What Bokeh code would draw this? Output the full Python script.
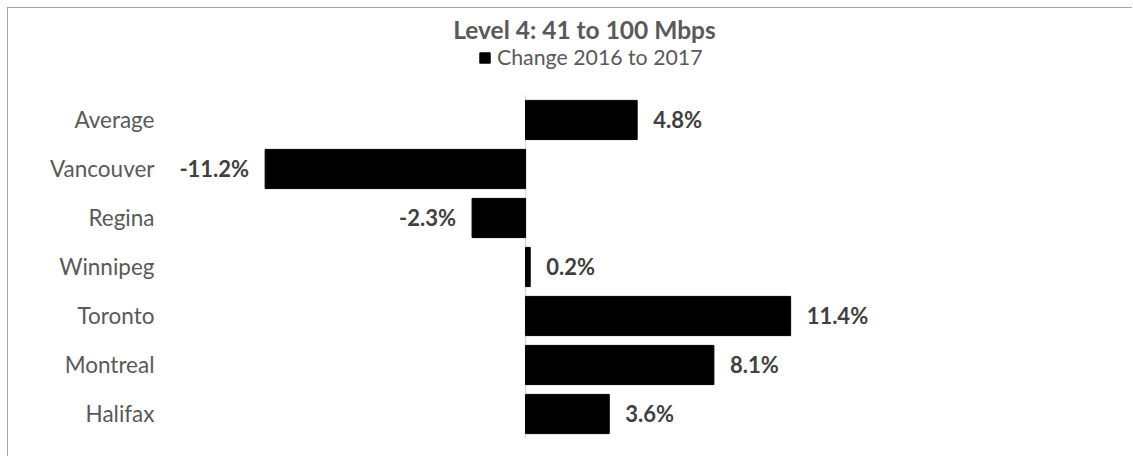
from bokeh.plotting import figure
from bokeh.models import (ColumnDataSource, Range1d, Legend, LegendItem, LabelSet,
                          FixedTicker)
from bokeh.core.properties import value
from bokeh.embed import file_html
from bokeh.resources import INLINE

# ---- data ----
cities = ["Average", "Vancouver", "Regina", "Winnipeg", "Toronto", "Montreal", "Halifax"]
changes = [4.8, -11.2, -2.3, 0.2, 11.4, 8.1, 3.6]
series_name = "Change 2016 to 2017"
title_text = "Level 4: 41 to 100 Mbps"

labels = [f"{v:.1f}%" for v in changes]
n = len(cities)
ypos = [n - 1 - i for i in range(n)]   # first category at the top

FONT = "Lato"
W, H = 1125, 449

p = figure(width=W, height=H,
           y_range=Range1d(-0.5, n - 0.5 + 1.061),
           x_range=Range1d(-15.70, 20.77),
           output_backend="svg", toolbar_location=None,
           min_border_left=152, min_border_right=125,
           min_border_top=35, min_border_bottom=19,
           outline_line_color=None)
p.styles = {"border-left": "1px solid #a6a6a6", "border-top": "1px solid #a6a6a6",
            "margin-left": "7px", "margin-top": "7px"}

src = ColumnDataSource(dict(y=ypos, city=cities, change=changes, label=labels))
r = p.hbar(y="y", left=0, right="change", height=0.8, source=src,
           fill_color="black", line_color="black")

# zero line spanning the category band
p.segment(x0=[0], y0=[-0.5], x1=[0], y1=[n - 0.5], line_color="#d9d9d9", line_width=1.5,
          level="underlay")

pos = [i for i, v in enumerate(changes) if v >= 0]
neg = [i for i, v in enumerate(changes) if v < 0]
src_pos = ColumnDataSource(dict(y=[ypos[i] for i in pos], change=[changes[i] for i in pos],
                                label=[labels[i] for i in pos]))
src_neg = ColumnDataSource(dict(y=[ypos[i] for i in neg], change=[changes[i] for i in neg],
                                label=[labels[i] for i in neg]))
for s, align, off in [(src_pos, "left", 16), (src_neg, "right", -16)]:
    ls = LabelSet(x="change", y="y", text="label", source=s, x_offset=off,
                  text_align=align, text_baseline="middle",
                  text_font=value(FONT), text_font_style="bold",
                  text_font_size="22px", text_color="#404040")
    p.add_layout(ls)

p.title.text = title_text
p.title.align = "center"
p.title.text_font = FONT
p.title.text_font_style = "bold"
p.title.text_font_size = "24.5px"
p.title.text_color = "#595959"
p.title.standoff = 0

legend = Legend(items=[LegendItem(label=series_name, renderers=[r])],
                orientation="horizontal", location=(318, 368),
                border_line_alpha=0, background_fill_alpha=0,
                label_text_font=FONT, label_text_font_size="21.3px",
                label_text_color="#595959", glyph_width=13, glyph_height=13,
                padding=0, margin=0, label_standoff=6)
p.add_layout(legend, "center")

p.xaxis.visible = False
p.xgrid.visible = False
p.ygrid.visible = False
p.yaxis.ticker = FixedTicker(ticks=ypos)
p.yaxis.major_label_overrides = {y: c for y, c in zip(ypos, cities)}
p.yaxis.axis_line_color = None
p.yaxis.major_tick_line_color = None
p.yaxis.minor_tick_line_color = None
p.yaxis.major_label_standoff = 0
p.yaxis.major_label_text_font = FONT
p.yaxis.major_label_text_font_size = "22.5px"
p.yaxis.major_label_text_color = "#595959"

open("out.html", "w").write(file_html(p, INLINE))
